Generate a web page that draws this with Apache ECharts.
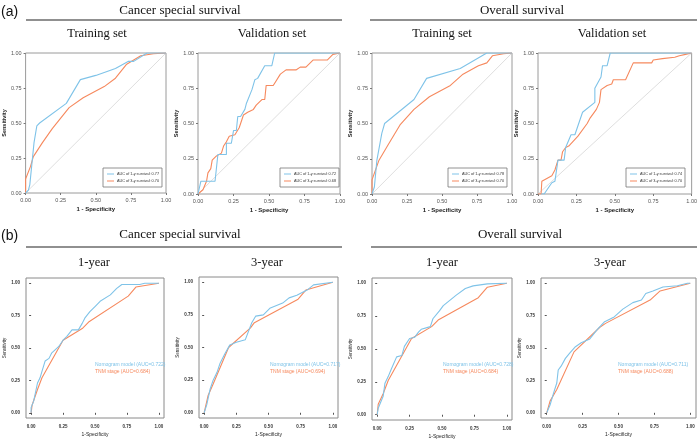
<!DOCTYPE html>
<html><head><meta charset="utf-8">
<script src="https://cdn.jsdelivr.net/npm/echarts@6/dist/echarts.min.js"></script>
<style>html,body{margin:0;background:#fff}#c{width:700px;height:440px}</style>
</head><body><div id="c"></div>
<script>
// ---------- DATA ----------
const tickValues = [0, 0.25, 0.5, 0.75, 1];
const diag = [[0, 0], [1, 1]];

// (a) Cancer special survival - Training set
const cssTrain1y = [[0,0],[0.02,0.02],[0.03,0.06],[0.06,0.36],[0.08,0.48],[0.1,0.5],[0.29,0.64],[0.3,0.65],[0.39,0.81],[0.5,0.84],[0.64,0.89],[0.73,0.94],[0.77,0.94],[0.865,1],[1,1]];
const cssTrain3y = [[0,0],[0,0.1],[0.035,0.19],[0.055,0.26],[0.12,0.36],[0.19,0.46],[0.31,0.61],[0.41,0.68],[0.56,0.76],[0.64,0.82],[0.72,0.92],[0.82,0.98],[0.91,0.995],[1,1]];
// (a) Cancer special survival - Validation set
const cssValid1y = [[0,0],[0.02,0.09],[0.12,0.09],[0.14,0.28],[0.2,0.28],[0.2,0.36],[0.235,0.36],[0.25,0.45],[0.27,0.45],[0.28,0.55],[0.3,0.55],[0.33,0.6],[0.34,0.64],[0.35,0.64],[0.38,0.74],[0.4,0.81],[0.42,0.82],[0.47,0.91],[0.52,0.91],[0.54,1],[1,1]];
const cssValid3y = [[0,0],[0.035,0.03],[0.06,0.09],[0.07,0.15],[0.09,0.18],[0.1,0.24],[0.13,0.27],[0.165,0.29],[0.18,0.34],[0.2,0.37],[0.22,0.41],[0.26,0.42],[0.29,0.47],[0.3,0.47],[0.32,0.56],[0.35,0.58],[0.39,0.6],[0.41,0.63],[0.45,0.67],[0.47,0.67],[0.48,0.77],[0.53,0.77],[0.58,0.85],[0.62,0.88],[0.69,0.88],[0.72,0.9],[0.76,0.9],[0.81,0.95],[0.91,0.95],[0.95,0.99],[1,1]];
// (a) Overall survival - Training set
const osTrain1y = [[0,0],[0.017,0.05],[0.035,0.24],[0.07,0.43],[0.09,0.5],[0.1,0.5],[0.3,0.67],[0.39,0.82],[0.63,0.89],[0.82,1],[1,1]];
const osTrain3y = [[0,0],[0,0.1],[0.05,0.24],[0.11,0.34],[0.2,0.49],[0.3,0.6],[0.41,0.69],[0.56,0.77],[0.65,0.85],[0.76,0.91],[0.82,0.93],[0.86,0.98],[0.94,0.995],[1,1]];
// (a) Overall survival - Validation set
const osValid1y = [[0.02,0],[0.04,0],[0.09,0.08],[0.11,0.09],[0.13,0.24],[0.17,0.24],[0.18,0.33],[0.19,0.33],[0.215,0.42],[0.24,0.42],[0.29,0.58],[0.37,0.65],[0.37,0.75],[0.41,0.83],[0.42,0.91],[0.45,0.91],[0.47,1],[0.94,1],[1,1]];
const osValid3y = [[0,0],[0.02,0],[0.025,0.09],[0.09,0.13],[0.11,0.17],[0.13,0.24],[0.15,0.24],[0.16,0.3],[0.17,0.3],[0.18,0.33],[0.2,0.34],[0.26,0.41],[0.32,0.5],[0.34,0.54],[0.38,0.6],[0.4,0.65],[0.41,0.74],[0.45,0.77],[0.48,0.78],[0.49,0.81],[0.57,0.81],[0.62,0.93],[0.74,0.93],[0.75,0.95],[0.81,0.96],[0.89,0.97],[0.92,0.98],[0.96,0.99],[1,1]];

// (b) Cancer special survival - 1-year
const cssNomo1 = [[0,0],[0,0.04],[0.02,0.09],[0.05,0.23],[0.07,0.27],[0.085,0.32],[0.11,0.4],[0.14,0.42],[0.16,0.46],[0.215,0.51],[0.25,0.56],[0.28,0.59],[0.32,0.64],[0.37,0.64],[0.4,0.69],[0.42,0.73],[0.46,0.78],[0.5,0.82],[0.54,0.86],[0.62,0.91],[0.67,0.96],[0.71,0.99],[0.85,0.99],[0.89,1],[1,1]];
const cssTnm1 = [[0,0],[0.008,0.06],[0.05,0.18],[0.085,0.27],[0.25,0.56],[0.4,0.65],[0.45,0.7],[0.76,0.9],[0.82,0.97],[1,1]];
// (b) Cancer special survival - 3-year
const cssNomo3 = [[0,0],[0.02,0.06],[0.046,0.18],[0.07,0.25],[0.1,0.31],[0.124,0.38],[0.16,0.45],[0.2,0.52],[0.25,0.54],[0.32,0.56],[0.335,0.57],[0.37,0.69],[0.4,0.74],[0.46,0.75],[0.51,0.8],[0.61,0.84],[0.66,0.88],[0.72,0.9],[0.8,0.94],[0.85,0.98],[1,1]];
const cssTnm3 = [[0,0],[0.03,0.13],[0.07,0.22],[0.19,0.5],[0.36,0.65],[0.39,0.69],[0.73,0.87],[0.79,0.94],[1,1]];
// (b) Overall survival - 1-year
const osNomo1 = [[0,0],[0.008,0.05],[0.046,0.14],[0.06,0.24],[0.085,0.29],[0.11,0.35],[0.15,0.44],[0.19,0.45],[0.21,0.52],[0.25,0.58],[0.29,0.59],[0.32,0.63],[0.34,0.65],[0.41,0.67],[0.43,0.73],[0.48,0.79],[0.51,0.83],[0.56,0.87],[0.61,0.91],[0.68,0.96],[0.74,0.98],[0.85,0.995],[1,1]];
const osTnm1 = [[0,0],[0.008,0.08],[0.046,0.16],[0.085,0.26],[0.265,0.58],[0.42,0.67],[0.47,0.72],[0.78,0.89],[0.85,0.97],[1,1]];
// (b) Overall survival - 3-year
const osNomo3 = [[0,0],[0.023,0.06],[0.047,0.15],[0.07,0.23],[0.08,0.33],[0.1,0.36],[0.13,0.42],[0.16,0.46],[0.2,0.51],[0.24,0.54],[0.3,0.57],[0.35,0.64],[0.4,0.7],[0.47,0.74],[0.53,0.8],[0.6,0.85],[0.66,0.87],[0.69,0.92],[0.74,0.94],[0.81,0.97],[0.91,0.98],[0.98,1],[1,1]];
const osTnm3 = [[0,0],[0.023,0.09],[0.07,0.18],[0.19,0.47],[0.37,0.66],[0.41,0.69],[0.72,0.87],[0.79,0.94],[1,1]];

// Legend labels
const aLegend = [
  ['AUC of 1-y survival: 0.77', 'AUC of 3-y survival: 0.70'],
  ['AUC of 1-y survival: 0.72', 'AUC of 3-y survival: 0.68'],
  ['AUC of 1-y survival: 0.78', 'AUC of 3-y survival: 0.70'],
  ['AUC of 1-y survival: 0.74', 'AUC of 3-y survival: 0.70']
];
const bLegend = [
  ['Nomogram model (AUC=0.722)', 'TNM stage (AUC=0.684)'],
  ['Nomogram model (AUC=0.717)', 'TNM stage (AUC=0.694)'],
  ['Nomogram model (AUC=0.728)', 'TNM stage (AUC=0.684)'],
  ['Nomogram model (AUC=0.711)', 'TNM stage (AUC=0.688)']
];
const aSeries = [[cssTrain1y, cssTrain3y], [cssValid1y, cssValid3y], [osTrain1y, osTrain3y], [osValid1y, osValid3y]];
const bSeries = [[cssNomo1, cssTnm1], [cssNomo3, cssTnm3], [osNomo1, osTnm1], [osNomo3, osTnm3]];

// ---------- LAYOUT ----------
const BLUE = '#7FC3E8', ORANGE = '#F6895E';
const aGrids = [
  {left: 25, top: 53, width: 141, height: 140},
  {left: 198, top: 53, width: 142, height: 141},
  {left: 372, top: 53, width: 140, height: 141},
  {left: 538, top: 53, width: 155, height: 141}
];
const aLegPos = [{left: 103, top: 168}, {left: 280, top: 168}, {left: 448, top: 168}, {left: 626, top: 168}];
const bGrids = [
  {left: 26, top: 278, width: 138, height: 140},
  {left: 199, top: 277, width: 139, height: 141},
  {left: 372, top: 278, width: 140, height: 142},
  {left: 541, top: 278, width: 155, height: 140}
];
const bLegPos = [{left: 90, top: 362}, {left: 265, top: 362}, {left: 438, top: 362}, {left: 613, top: 362}];

const grid = [], xAxis = [], yAxis = [], series = [], legend = [];
const fmt = v => v.toFixed(2);

aGrids.forEach((g, i) => {
  grid.push(Object.assign({show: true, borderColor: '#9a9a9a', borderWidth: 1, backgroundColor: '#fff'}, g));
  xAxis.push({gridIndex: i, type: 'value', min: 0, max: 1, interval: 0.25,
    name: '1 - Specificity', nameLocation: 'middle', nameGap: 13,
    nameTextStyle: {fontSize: 6, fontWeight: 'bold', color: '#222', fontFamily: 'Liberation Sans'},
    axisLine: {show: false}, axisTick: {show: true, length: 2, lineStyle: {color: '#777'}},
    axisLabel: {fontSize: 5.5, color: '#555', margin: 4, formatter: fmt, fontFamily: 'Liberation Sans'},
    splitLine: {show: false}});
  yAxis.push({gridIndex: i, type: 'value', min: 0, max: 1, interval: 0.25,
    name: 'Sensitivity', nameLocation: 'middle', nameGap: 17,
    nameTextStyle: {fontSize: 5.5, fontWeight: 'bold', color: '#222', fontFamily: 'Liberation Sans'},
    axisLine: {show: false}, axisTick: {show: true, length: 2, lineStyle: {color: '#777'}},
    axisLabel: {fontSize: 5.5, color: '#555', margin: 4, formatter: fmt, fontFamily: 'Liberation Sans'},
    splitLine: {show: false}});
  series.push({type: 'line', xAxisIndex: i, yAxisIndex: i, data: diag, symbol: 'none', silent: true,
    lineStyle: {color: '#d6d6d6', width: 0.8}, z: 1});
  const cols = [BLUE, ORANGE];
  aSeries[i].forEach((d, k) => {
    series.push({name: aLegend[i][k], type: 'line', xAxisIndex: i, yAxisIndex: i, data: d, symbol: 'none',
      color: cols[k], lineStyle: {color: cols[k], width: 1.1}, z: 3 - k});
  });
  legend.push(Object.assign({data: aLegend[i], orient: 'vertical', icon: 'rect', itemWidth: 7, itemHeight: 1,
    itemGap: 3, padding: [4, 3, 4, 4], borderColor: '#777', borderWidth: 0.8, backgroundColor: '#fff',
    selectedMode: false, textStyle: {fontSize: 3.8, color: '#333', fontFamily: 'Liberation Sans', padding: [0, 0, 0, -2]}}, aLegPos[i]));
});

bGrids.forEach((g, j) => {
  const i = j + 4;
  grid.push(Object.assign({show: true, borderColor: '#8a8a8a', borderWidth: 1, backgroundColor: '#fff'}, g));
  xAxis.push({gridIndex: i, type: 'value', min: -0.04, max: 1.04,
    name: '1-Specificity', nameLocation: 'middle', nameGap: 14,
    nameTextStyle: {fontSize: 5, color: '#222', fontFamily: 'Liberation Sans'},
    axisLine: {show: false}, axisTick: {show: true, length: 2, customValues: tickValues, lineStyle: {color: '#555'}},
    axisLabel: {fontSize: 4.5, fontWeight: 'bold', color: '#333', margin: 6, customValues: tickValues, formatter: fmt, fontFamily: 'Liberation Sans'},
    splitLine: {show: false}});
  yAxis.push({gridIndex: i, type: 'value', min: -0.04, max: 1.04,
    name: 'Sensitivity', nameLocation: 'middle', nameGap: 18,
    nameTextStyle: {fontSize: 4.6, color: '#222', fontFamily: 'Liberation Sans'},
    axisLine: {show: false}, axisTick: {show: true, length: 2, customValues: tickValues, lineStyle: {color: '#555'}},
    axisLabel: {fontSize: 4.5, fontWeight: 'bold', color: '#333', margin: 6, customValues: tickValues, formatter: fmt, fontFamily: 'Liberation Sans'},
    splitLine: {show: false}});
  const cols = [BLUE, ORANGE];
  bSeries[j].forEach((d, k) => {
    series.push({name: bLegend[j][k], type: 'line', xAxisIndex: i, yAxisIndex: i, data: d, symbol: 'none',
      color: cols[k], lineStyle: {color: cols[k], width: 1.1}, z: 3 - k});
  });
  legend.push(Object.assign({data: bLegend[j].map((n, k) => ({name: n, textStyle: {color: cols[k]}})),
    orient: 'vertical', icon: 'rect', itemWidth: 0, itemHeight: 0, itemGap: 2, padding: 0,
    selectedMode: false, textStyle: {fontSize: 5, fontFamily: 'Liberation Sans'}}, bLegPos[j]));
});

// Headings
const serif = 'Liberation Serif';
const txt = (x, y, s, size, family, align) => ({type: 'text', x: x, y: y,
  style: {text: s, fontSize: size, fontFamily: family || serif, fill: '#111', textAlign: align || 'center', textVerticalAlign: 'middle'}});
const hline = (x1, x2, y) => ({type: 'line', shape: {x1: x1, y1: y, x2: x2, y2: y}, style: {stroke: '#222', lineWidth: 1.2}});
const graphic = [
  txt(1, 12, '(a)', 14, 'Liberation Sans', 'left'),
  txt(180, 11, 'Cancer special survival', 13),
  txt(522, 11, 'Overall survival', 13),
  hline(26, 342, 20), hline(370, 697, 20),
  txt(97, 34, 'Training set', 12.5), txt(272, 34, 'Validation set', 12.5),
  txt(442, 34, 'Training set', 12.5), txt(612, 34, 'Validation set', 12.5),
  txt(1, 236, '(b)', 14, 'Liberation Sans', 'left'),
  txt(180, 235, 'Cancer special survival', 13),
  txt(520, 235, 'Overall survival', 13),
  hline(26, 342, 247), hline(371, 697, 247),
  txt(94, 263, '1-year', 12.5), txt(267, 263, '3-year', 12.5),
  txt(442, 263, '1-year', 12.5), txt(610, 263, '3-year', 12.5)
];

const chart = echarts.init(document.getElementById('c'), null, {renderer: 'canvas'});
chart.setOption({backgroundColor: '#fff', animation: false, grid, xAxis, yAxis, series, legend, graphic});
</script>
</body></html>
